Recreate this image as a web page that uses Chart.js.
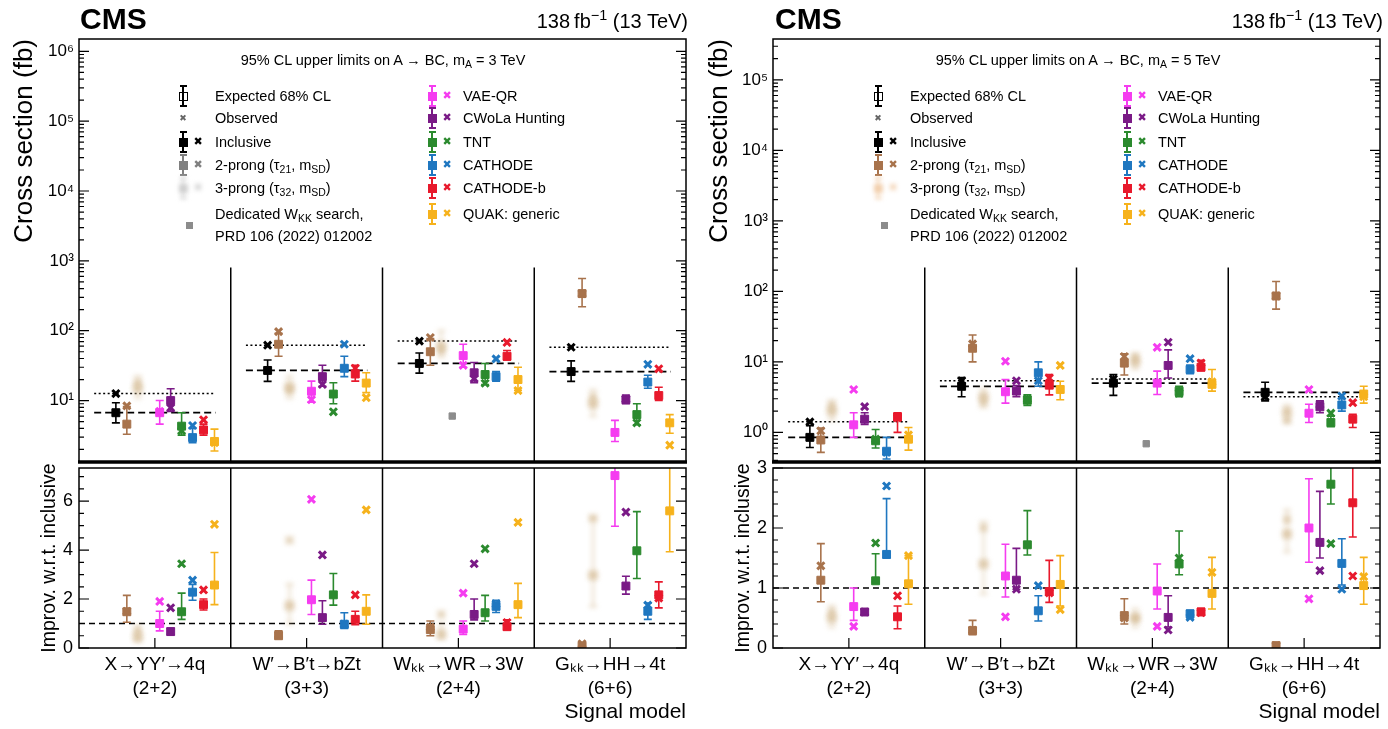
<!DOCTYPE html>
<html>
<head>
<meta charset="utf-8">
<title>CMS 95% CL upper limits, A to BC</title>
<script src="https://cdn.jsdelivr.net/npm/chart.js"></script>
<style>
  body { margin: 0; background: #fff; }
  #page { position: relative; width: 1388px; height: 729px; overflow: hidden; background: #fff;
          font-family: "Liberation Sans", Arial, Helvetica, sans-serif; color: #000; }
  canvas { position: absolute; }
  .t { position: absolute; white-space: nowrap; line-height: 1.15; }
  .t sub { font-size: 72%; vertical-align: -0.28em; line-height: 0; }
  .t sup { font-size: 72%; vertical-align: 0.55em; line-height: 0; }
  .m { position: absolute; }
</style>
</head>
<body>
<div id="page">
  <canvas id="upL" width="694" height="470" style="left:0px;top:0px"></canvas>
  <canvas id="loL" width="694" height="269" style="left:0px;top:460px"></canvas>
  <canvas id="upR" width="694" height="470" style="left:694px;top:0px"></canvas>
  <canvas id="loR" width="694" height="269" style="left:694px;top:460px"></canvas>
</div>
<script>
const FONT = '"Liberation Sans", Arial, Helvetica, sans-serif';

const signalModels = [
  ['X→YY′→4q', '(2+2)'],
  ['W′→B′t→bZt', '(3+3)'],
  ['Wₖₖ→WR→3W', '(2+4)'],
  ['Gₖₖ→HH→4t', '(6+6)']
];
const methods = ['Inclusive', '2-prong', '3-prong', 'Dedicated WKK search', 'VAE-QR',
                 'CWoLa Hunting', 'TNT', 'CATHODE', 'CATHODE-b', 'QUAK: generic'];
const methodColors = ['#000000', '#a8734c', 'rgba(214,188,150,0.75)', '#8c8c8c', '#f53cf0',
                      '#7a1a86', '#2b8a2e', '#1f77c0', '#e8192c', '#f6b21c'];

// mA = 3 TeV: cross section limits (fb), rows follow methods, columns follow signalModels
const xsExp3 = [
  [6.7, 27, 34, 26], [4.6, 64, 50, 340], [15, 15.6, 60, 9], [null, null, 6.0, null],
  [6.7, 13.6, 44, 3.5], [10, 22, 25, 10.3], [4.3, 12.4, 23.6, 6.3], [2.95, 29, 22, 18.4],
  [3.8, 24, 43, 11.8], [2.6, 17.8, 20, 4.8]
];
const xsObs3 = [
  [12.6, 62, 71, 58], [8.4, 97, 80, 340], [18, 14, 52, 11], [null, null, null, null],
  [7.0, 10.3, 32, null], [7.9, 17, 20.6, 10.5], [3.7, 6.9, 17.7, 4.8], [4.4, 64, 39.5, 33],
  [5.3, 29, 68, 28.5], [2.5, 11, 13.9, 2.3]
];
const xsLo3 = [
  [4.8, 18.8, 24.7, 18.8], [3.3, 43, 32, 220], [11, 11, 42, 6], [null, null, null, null],
  [4.6, 9.5, 30, 2.6], [7, 16, 18, 9], [3.2, 9, 17, 4.5], [2.5, 22, 19, 15],
  [3.2, 19, 38, 10], [1.9, 13, 14, 3.4]
];
const xsHi3 = [
  [9.3, 38, 48, 37], [8.2, 92, 77, 560], [22, 22, 100, 14], [null, null, null, null],
  [10, 19, 64, 5.2], [14.8, 32, 35, 12], [6.7, 18, 34, 9], [4.0, 43, 26, 23],
  [4.6, 32, 52, 15.5], [3.9, 25, 30, 6.3]
];
// mA = 3 TeV: improvement w.r.t. inclusive
const impExp3 = [
  [null, null, null, null], [1.48, 0.5, 0.75, 0.08], [0.45, 1.73, 0.57, 2.97], [null, null, null, null],
  [1.0, 1.97, 0.77, 7.04], [0.67, 1.24, 1.37, 2.53], [1.48, 2.17, 1.44, 3.97], [2.28, 0.97, 1.7, 1.5],
  [1.77, 1.17, 0.87, 2.17], [2.57, 1.5, 1.77, 5.6]
];
const impObs3 = [
  [null, null, null, null], [1.5, 0.55, 0.85, 0.17], [0.7, 4.4, 1.37, 5.3], [null, null, null, null],
  [1.9, 6.07, 2.24, null], [1.64, 3.8, 3.44, 5.55], [3.44, null, 4.05, null], [2.77, 0.98, 1.8, 1.75],
  [2.37, 2.17, 1.04, 2.04], [5.05, 5.64, 5.13, null]
];
const impLo3 = [
  [null, null, null, null], [1.05, 0.38, 0.5, null], [0.3, 1.0, 0.4, 1.7], [null, null, null, null],
  [0.7, 1.37, 0.55, 4.97], [0.55, 0.97, 1.15, 2.2], [1.17, 1.75, 1.1, 2.84], [1.95, 0.8, 1.45, 1.17],
  [1.55, 0.95, 0.75, 1.64], [1.77, 0.97, 1.24, 3.93]
];
const impHi3 = [
  [null, null, null, null], [2.15, 0.7, 1.1, null], [0.9, 2.6, 1.0, 5.3], [null, null, null, null],
  [1.5, 2.77, 1.1, 7.6], [0.8, 1.93, 2.0, 2.93], [2.24, 3.04, 2.15, 5.57], [2.6, 1.44, 1.95, 1.84],
  [2.0, 1.5, 1.15, 2.7], [3.9, 2.17, 2.64, 7.6]
];

// mA = 5 TeV
const xsExp5 = [
  [0.85, 4.5, 5.0, 3.7], [0.78, 15.6, 9.6, 86], [2.0, 3.2, 10, 1.95], [null, null, 0.69, null],
  [1.28, 3.77, 5.0, 1.87], [1.54, 3.85, 8.9, 2.3], [0.76, 2.85, 3.85, 1.38], [0.54, 7.0, 7.8, 2.45],
  [1.66, 4.67, 8.4, 1.54], [0.8, 4.06, 4.8, 3.5]
];
const xsObs5 = [
  [1.41, 5.4, 5.7, 3.2], [1.05, 18, 11.9, 86], [2.4, 2.7, 11.5, 1.5], [null, null, null, null],
  [4.06, 10.2, 16.1, 4.06], [2.32, 5.4, 19, 2.48], [0.8, 3.0, 3.6, 1.87], [0.52, 5.4, 11.1, 3.28],
  [1.6, 5.9, 9.6, 2.64], [0.92, 8.9, 5.2, 3.2]
];
const xsLo5 = [
  [0.61, 3.2, 3.35, 2.8], [0.52, 10, 6.5, 56], [1.5, 2.3, 8, 1.4], [null, null, null, null],
  [0.85, 2.6, 3.45, 1.38], [1.3, 3.2, 5.9, 1.9], [0.6, 2.4, 3.2, 1.2], [0.42, 4.5, 6.8, 2.0],
  [1.0, 3.4, 7.5, 1.17], [0.56, 2.9, 3.85, 2.6]
];
const xsHi5 = [
  [1.24, 6.0, 6.6, 5.15], [1.15, 24, 13, 138], [2.8, 4.2, 13, 2.4], [null, null, null, null],
  [1.9, 5.6, 7.4, 2.5], [1.9, 4.6, 14.8, 2.8], [1.1, 3.4, 4.5, 1.7], [0.85, 10, 9.0, 3.0],
  [1.9, 6.6, 10.5, 1.8], [1.17, 5.3, 7.8, 4.5]
];
const impExp5 = [
  [null, null, null, null], [1.13, 0.29, 0.54, 0.04], [0.5, 1.4, 0.5, 1.9], [null, null, null, null],
  [0.69, 1.2, 0.95, 2.0], [0.6, 1.13, 0.51, 1.76], [1.12, 1.72, 1.4, 2.73], [1.56, 0.62, 0.57, 1.41],
  [0.52, 0.94, 0.6, 2.42], [1.07, 1.06, 0.91, 1.04]
];
const impObs5 = [
  [null, null, null, null], [1.37, 0.3, 0.5, 0.04], [0.6, 2.0, 0.5, 2.14], [null, null, null, null],
  [0.36, 0.52, 0.36, 0.82], [0.6, 0.98, 0.3, 1.29], [1.75, null, 1.5, 1.74], [2.7, 1.04, 0.51, 0.98],
  [0.87, 0.92, 0.59, 1.2], [1.54, 0.64, 1.26, 1.19]
];
const impLo5 = [
  [null, null, null, null], [0.77, 0.22, 0.4, null], [0.35, 0.9, 0.35, 1.6], [null, null, null, null],
  [0.46, 0.85, 0.65, 1.43], [0.55, 0.98, 0.35, 1.5], [1.1, 1.55, 1.22, 2.4], [1.5, 0.45, 0.5, 1.05],
  [0.32, 0.76, 0.55, 1.85], [0.73, 0.7, 0.65, 0.73]
];
const impHi5 = [
  [null, null, null, null], [1.74, 0.46, 0.82, null], [0.7, 2.1, 0.65, 2.3], [null, null, null, null],
  [1.0, 1.73, 1.4, 2.82], [0.65, 1.66, 0.87, 2.61], [1.57, 2.29, 1.95, 3.2], [2.49, 0.87, 0.63, 1.82],
  [0.7, 1.46, 0.66, 3.2], [1.54, 1.54, 1.51, 1.51]
];

// position of method i inside signal model group g (x axis runs 0..4)
const slotX = (g, i) => g + 0.243 + 0.0722 * i;

const SUP = {'0': '⁰', '1': '¹', '2': '²', '3': '³', '4': '⁴', '5': '⁵', '6': '⁶', '-': '⁻'};
const pow10Label = v => '10' + String(Math.round(Math.log10(v))).split('').map(c => SUP[c]).join('');

// keep the plot area exactly where the layout padding puts it
const noScalePadding = s => { s.paddingTop = 0; s.paddingBottom = 0; s.paddingLeft = 0; s.paddingRight = 0; };

function markerSets(exp, obs, lo, hi) {
  const sets = [];
  methods.forEach((name, i) => {
    const c = methodColors[i];
    const e = [], o = [];
    signalModels.forEach((s, g) => {
      if (exp[i][g] != null) e.push({x: slotX(g, i), y: exp[i][g], lo: lo[i][g], hi: hi[i][g]});
      if (obs[i][g] != null) o.push({x: slotX(g, i), y: obs[i][g]});
    });
    const blur = i === 2 ? 2.5 : 0;
    sets.push({label: name + ' expected', data: e, errors: true, blur, pointStyle: 'rect',
      pointRadius: i === 3 ? 4.5 : 5.6, backgroundColor: c, borderColor: c, borderWidth: 1, order: 2});
    sets.push({label: name + ' observed', data: o, blur, pointStyle: 'crossRot',
      pointRadius: 5, backgroundColor: c, borderColor: c, borderWidth: 3, order: 1});
  });
  return sets;
}

function refLine(vals, dash, width) {
  const pts = [];
  vals.forEach((v, g) => pts.push({x: g + 0.1, y: v}, {x: g + 0.9, y: v}, {x: g + 0.95, y: null}));
  return {label: 'ref', data: pts, showLine: true, spanGaps: false, pointRadius: 0,
    borderColor: '#000', borderWidth: width, borderDash: dash, order: 5};
}

// error bars (and blur for the 3-prong entries) drawn through the chart scales
const errorBars = {
  id: 'errorBars',
  beforeDatasetDraw(chart, args) {
    const ds = chart.data.datasets[args.index];
    const ctx = chart.ctx;
    ctx.save();
    if (ds.blur) ctx.filter = 'blur(' + ds.blur + 'px)';
    if (!ds.errors) return;
    const a = chart.chartArea;
    const ys = chart.scales.y;
    ctx.save();
    ctx.beginPath();
    ctx.rect(a.left, a.top, a.right - a.left, a.bottom - a.top);
    ctx.clip();
    ctx.strokeStyle = ds.borderColor;
    ctx.lineWidth = 1.6;
    args.meta.data.forEach((el, j) => {
      const p = ds.data[j];
      if (p.lo == null || p.hi == null) return;
      const y1 = ys.getPixelForValue(p.lo), y2 = ys.getPixelForValue(p.hi);
      ctx.beginPath();
      ctx.moveTo(el.x, y1); ctx.lineTo(el.x, y2);
      ctx.moveTo(el.x - 4, y1); ctx.lineTo(el.x + 4, y1);
      ctx.moveTo(el.x - 4, y2); ctx.lineTo(el.x + 4, y2);
      ctx.stroke();
    });
    ctx.restore();
  },
  afterDatasetDraw(chart) { chart.ctx.restore(); }
};

// frame, inward ticks and group separators
const frame = {
  id: 'frame',
  afterDraw(chart) {
    const o = chart.options.plugins.frame;
    const {ctx, chartArea: a} = chart;
    const xs = chart.scales.x, ys = chart.scales.y;
    ctx.save();
    ctx.strokeStyle = '#000';
    ctx.lineWidth = 1.5;
    ctx.beginPath();
    for (let g = 1; g < signalModels.length; g++) {
      const px = xs.getPixelForValue(g);
      ctx.moveTo(px, a.top + o.sepFrom * (a.bottom - a.top));
      ctx.lineTo(px, a.bottom);
    }
    ctx.stroke();
    const ticks = [];
    if (ys.type === 'logarithmic') {
      for (let e = Math.floor(Math.log10(ys.min)); e <= Math.ceil(Math.log10(ys.max)); e++)
        for (let m = 1; m < 10; m++) ticks.push({v: m * Math.pow(10, e), major: m === 1});
    } else {
      const n = Math.round(ys.max / o.minor);
      for (let k = 0; k <= n; k++) {
        const v = k * o.minor;
        ticks.push({v, major: Math.abs(v / o.major - Math.round(v / o.major)) < 1e-6});
      }
    }
    ctx.lineWidth = 1.2;
    ctx.beginPath();
    ticks.forEach(t => {
      if (t.v < ys.min || t.v > ys.max) return;
      const py = ys.getPixelForValue(t.v);
      const len = t.major ? 10 : 5;
      ctx.moveTo(a.left, py); ctx.lineTo(a.left + len, py);
      ctx.moveTo(a.right, py); ctx.lineTo(a.right - len, py);
    });
    if (o.xTicks) signalModels.forEach((s, g) => {
      const px = xs.getPixelForValue(g + 0.5);
      ctx.moveTo(px, a.bottom); ctx.lineTo(px, a.bottom - 10);
    });
    ctx.stroke();
    ctx.lineWidth = 1.5;
    ctx.strokeRect(a.left, a.top, a.right - a.left, a.bottom - a.top);
    if (o.thick) {
      ctx.lineWidth = 3.5;
      ctx.beginPath();
      ctx.moveTo(a.left - 1, a.bottom); ctx.lineTo(a.right + 1, a.bottom);
      ctx.stroke();
    }
    ctx.restore();
  }
};

function upperChart(id, exp, obs, lo, hi, yMin, yMax, decades, axisW, titlePad) {
  return new Chart(document.getElementById(id), {
    type: 'scatter',
    data: {datasets: [refLine(exp[0], [7, 4], 1.8), refLine(obs[0], [2, 2.5], 1.5)].concat(markerSets(exp, obs, lo, hi))},
    options: {
      responsive: false, animation: false, events: [],
      layout: {padding: {top: 39, bottom: 4, left: 0, right: 6}},
      plugins: {legend: {display: false}, tooltip: {enabled: false}, frame: {sepFrom: 0.54, thick: true}},
      scales: {
        x: {type: 'linear', min: 0, max: signalModels.length, display: false},
        y: {
          type: 'logarithmic', min: yMin, max: yMax,
          afterFit: s => { s.width = axisW; noScalePadding(s); },
          afterBuildTicks: s => { s.ticks = decades.map(v => ({value: v})); },
          ticks: {autoSkip: false, callback: v => pow10Label(v), font: {family: FONT, size: 17}, color: '#000', padding: 5},
          grid: {display: false, drawTicks: false}, border: {display: false},
          title: {display: true, text: 'Cross section (fb)', align: 'end', color: '#000',
                  font: {family: FONT, size: 26}, padding: {top: titlePad}}
        }
      }
    },
    plugins: [errorBars, frame]
  });
}

function lowerChart(id, exp, obs, lo, hi, yMax, majors, minor, major, axisW, titlePad) {
  const unity = {label: 'unity', data: [{x: 0, y: 1}, {x: signalModels.length, y: 1}], showLine: true,
    pointRadius: 0, borderColor: '#000', borderWidth: 1.6, borderDash: [6, 4], order: 5};
  return new Chart(document.getElementById(id), {
    type: 'scatter',
    data: {datasets: [unity].concat(markerSets(exp, obs, lo, hi))},
    options: {
      responsive: false, animation: false, events: [],
      layout: {padding: {top: 6, bottom: 0, left: 0, right: 6}},
      plugins: {legend: {display: false}, tooltip: {enabled: false},
                frame: {sepFrom: 0, thick: false, xTicks: true, minor, major}},
      scales: {
        x: {
          type: 'linear', min: 0, max: signalModels.length,
          afterBuildTicks: s => { s.ticks = signalModels.map((m, g) => ({value: g + 0.5})); },
          afterFit: s => { s.height = 81; noScalePadding(s); },
          ticks: {autoSkip: false, maxRotation: 0, callback: v => signalModels[Math.floor(v)],
                  font: {family: FONT, size: 19, lineHeight: 1.3}, color: '#000', padding: 4},
          grid: {display: false, drawTicks: false}, border: {display: false},
          title: {display: true, text: 'Signal model', align: 'end', color: '#000',
                  font: {family: FONT, size: 21}, padding: {top: 0, bottom: 4}}
        },
        y: {
          type: 'linear', min: 0, max: yMax,
          afterFit: s => { s.width = axisW; noScalePadding(s); },
          afterBuildTicks: s => { s.ticks = majors.map(v => ({value: v})); },
          ticks: {autoSkip: false, font: {family: FONT, size: 18}, color: '#000', padding: 6},
          grid: {display: false, drawTicks: false}, border: {display: false},
          title: {display: true, text: 'Improv. w.r.t. inclusive', color: '#000',
                  font: {family: FONT, size: 19.5}, padding: {top: titlePad}}
        }
      }
    },
    plugins: [errorBars, frame]
  });
}

upperChart('upL', xsExp3, xsObs3, xsLo3, xsHi3, 1.32, 1.5e6, [10, 1e2, 1e3, 1e4, 1e5, 1e6], 79, 9);
lowerChart('loL', impExp3, impObs3, impLo3, impHi3, 7.35, [0, 2, 4, 6], 0.5, 2, 79, 38);
upperChart('upR', xsExp5, xsObs5, xsLo5, xsHi5, 0.38, 3.8e5, [1, 10, 1e2, 1e3, 1e4, 1e5], 79, 10);
lowerChart('loR', impExp5, impObs5, impLo5, impHi5, 3.0, [0, 1, 2, 3], 0.2, 1, 79, 38);

// ---- text overlays: experiment label, luminosity, legends
const page = document.getElementById('page');
function addText(html, x, y, size, anchor, weight) {
  const d = document.createElement('div');
  d.className = 't';
  d.innerHTML = html;
  d.style.fontSize = size + 'px';
  d.style.fontWeight = weight || 'normal';
  d.style.left = x + 'px';
  d.style.top = y + 'px';
  const tx = anchor === 'center' ? '-50%' : anchor === 'right' ? '-100%' : '0';
  d.style.transform = 'translate(' + tx + ', -50%)';
  page.appendChild(d);
}
function addBox(x, y, w, h, css) {
  const d = document.createElement('div');
  d.className = 'm';
  d.style.left = x + 'px'; d.style.top = y + 'px';
  d.style.width = w + 'px'; d.style.height = h + 'px';
  Object.assign(d.style, css);
  page.appendChild(d);
  return d;
}
function expMarker(x, y, color, open, blur) {
  const f = blur ? 'blur(2px)' : 'none';
  addBox(x - 0.75, y - 11, 1.5, 21, {background: color, filter: f});
  addBox(x - 3.5, y - 11, 7, 1.5, {background: color, filter: f});
  addBox(x - 3.5, y + 9, 7, 1.5, {background: color, filter: f});
  if (open) addBox(x - 4.5, y - 4.5, 7, 7, {border: '1px solid #000', background: 'transparent'});
  else addBox(x - 4.5, y - 4.5, 9, 9, {background: color, filter: f});
}
function obsMarker(x, y, color, size, blur) {
  const d = document.createElement('div');
  d.className = 't';
  d.textContent = '✖';
  d.style.fontFamily = '"DejaVu Sans", sans-serif';
  d.style.fontSize = size + 'px';
  d.style.color = color;
  d.style.left = x + 'px'; d.style.top = y + 'px';
  d.style.transform = 'translate(-50%, -50%)';
  if (blur) d.style.filter = 'blur(2px)';
  page.appendChild(d);
}

const legendRowsY = [96, 118, 142, 165, 188, 214];
function legend(dx, mass, prongColors) {
  addText('CMS', 80 + dx, 19, 30, 'left', 'bold');
  addText('138&#8201;fb<sup>−1</sup> (13 TeV)', 688 + dx, 21, 20, 'right');
  addText('95% CL upper limits on A → BC, m<sub>A</sub> = ' + mass + ' TeV', 383 + dx, 60, 14.5, 'center');
  const LS = 14.5;
  const xE = 183 + dx, xO = 198 + dx, xT = 215 + dx;
  expMarker(xE, legendRowsY[0], '#000', true);
  addText('Expected 68% CL', xT, legendRowsY[0], LS);
  obsMarker(xE, legendRowsY[1], '#666', 9);
  addText('Observed', xT, legendRowsY[1], LS);
  const leftRows = [
    [0, 'Inclusive'],
    [1, '2-prong (τ<sub>21</sub>, m<sub>SD</sub>)'],
    [2, '3-prong (τ<sub>32</sub>, m<sub>SD</sub>)']
  ];
  leftRows.forEach(([i, text], r) => {
    const c = i === 0 ? '#000' : prongColors[i - 1];
    expMarker(xE, legendRowsY[r + 2], c, false, i === 2);
    obsMarker(xO, legendRowsY[r + 2], c, 11, i === 2);
    addText(text, xT, legendRowsY[r + 2], LS);
  });
  addBox(xE + 3, 222, 7, 7, {background: methodColors[3]});
  addText('Dedicated W<sub>KK</sub> search,', xT, 214, LS);
  addText('PRD 106 (2022) 012002', xT, 236, LS);
  const xE2 = 432 + dx, xO2 = 447 + dx, xT2 = 463 + dx;
  [4, 5, 6, 7, 8, 9].forEach((i, r) => {
    expMarker(xE2, legendRowsY[r], methodColors[i], false);
    obsMarker(xO2, legendRowsY[r], methodColors[i], 11);
    addText(methods[i], xT2, legendRowsY[r], LS);
  });
}
legend(0, 3, ['#808080', 'rgba(200,200,200,0.8)']);
legend(695, 5, ['#a8734c', 'rgba(240,200,160,0.8)']);
</script>
</body>
</html>
